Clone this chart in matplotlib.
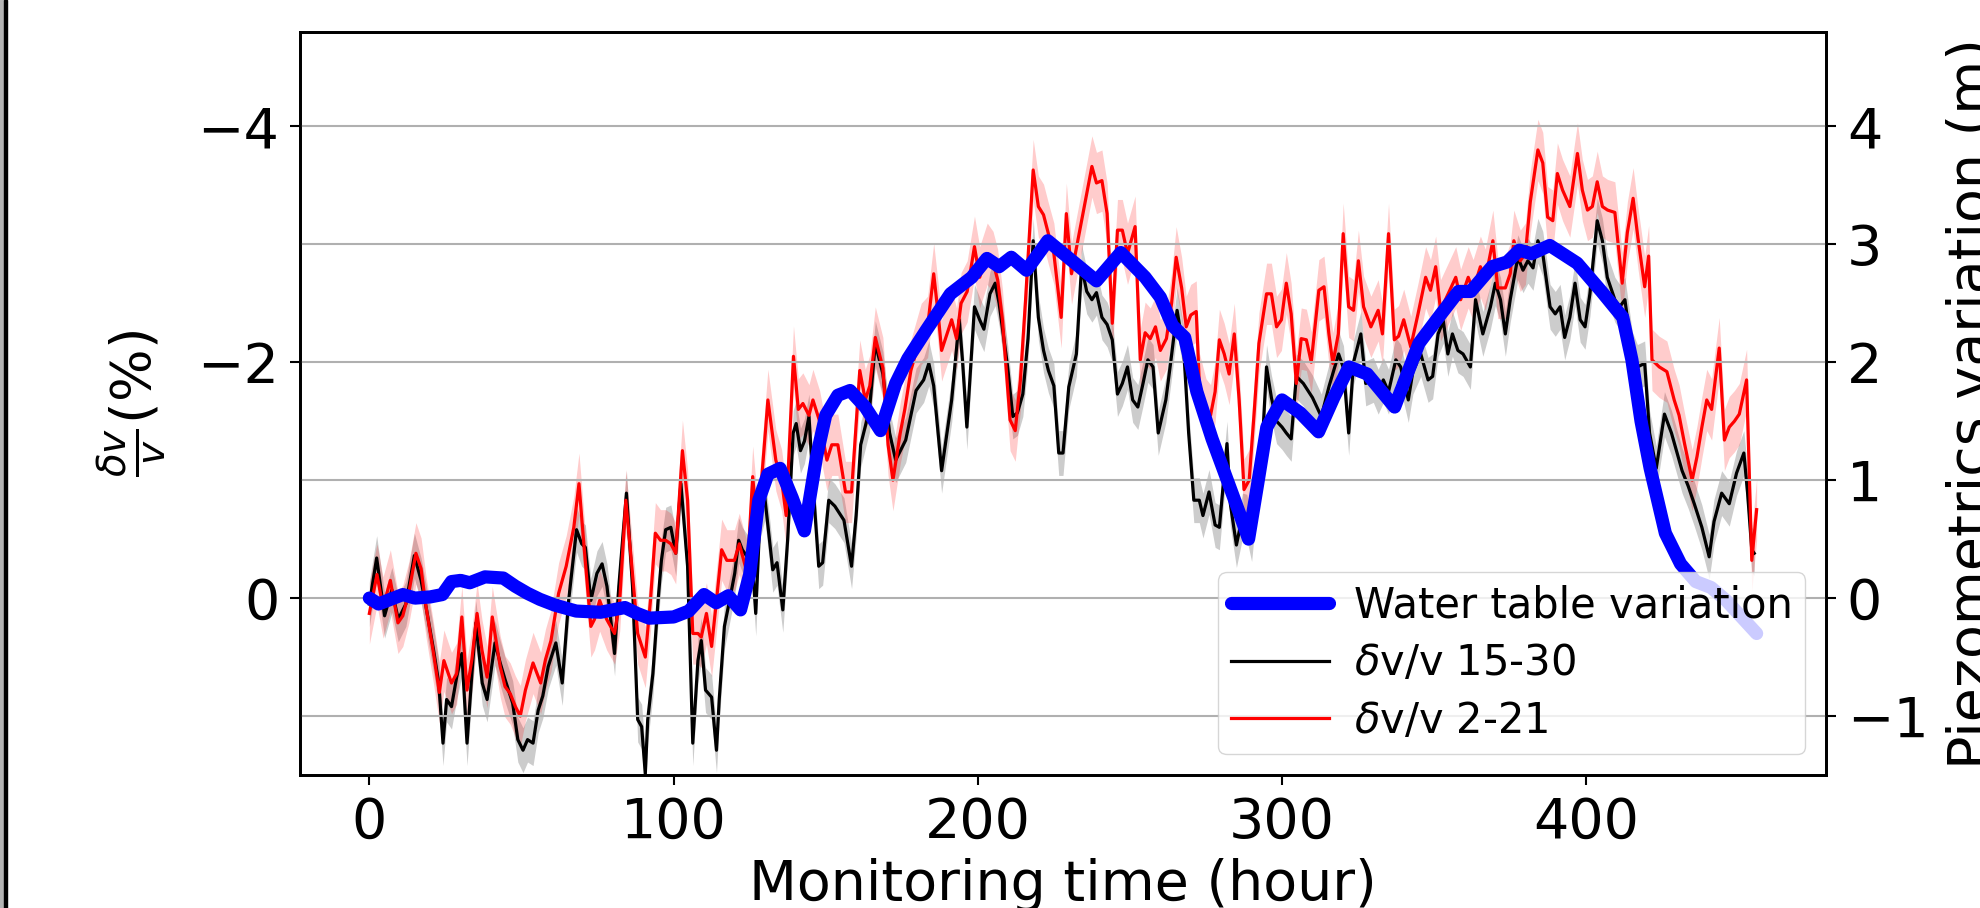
import matplotlib
matplotlib.use("Agg")
import matplotlib.pyplot as plt
import numpy as np
from matplotlib.patches import Rectangle

# water table (right axis, m)
t_wt = [0, 3, 7, 11, 15, 20, 24, 27, 30, 33,
        38, 44, 48, 52, 56, 61, 68, 76, 80, 84,
        88, 92, 100, 105, 110, 114, 118, 122, 125, 128,
        131, 135, 139, 143, 147, 150, 154, 158, 163, 168,
        173, 177, 183, 191, 198, 203, 207, 211, 216, 223,
        231, 239, 247, 255, 260, 264, 268, 272, 277, 282,
        286, 289, 292, 295, 300, 306, 312, 317, 322, 328,
        337, 345, 352, 358, 362, 369, 374, 378, 382, 388,
        397, 405, 412, 415, 418, 421, 426, 431, 436, 441,
        446, 451, 456]
wt = [0.0, -0.05, -0.01, 0.03, 0.0, 0.01, 0.03, 0.14, 0.15, 0.13,
      0.18, 0.17, 0.1, 0.04, -0.01, -0.06, -0.11, -0.12, -0.1, -0.08,
      -0.13, -0.17, -0.16, -0.11, 0.03, -0.04, 0.02, -0.1, 0.2, 0.83,
      1.05, 1.1, 0.85, 0.57, 1.2, 1.55, 1.72, 1.76, 1.62, 1.42,
      1.82, 2.03, 2.27, 2.58, 2.72, 2.88, 2.81, 2.89, 2.78, 3.03,
      2.86, 2.69, 2.93, 2.72, 2.55, 2.31, 2.21, 1.75, 1.35, 1.0,
      0.72, 0.5, 0.97, 1.45, 1.68, 1.57, 1.41, 1.7, 1.96, 1.9,
      1.62, 2.16, 2.4, 2.6, 2.6, 2.81, 2.85, 2.95, 2.92, 2.99,
      2.84, 2.6, 2.38, 2.02, 1.5, 1.1, 0.55, 0.29, 0.14, 0.09,
      -0.02, -0.16, -0.3]

# dv/v 15-30 (left axis, %)
t_black = [0, 2.4, 5, 7.4, 9.5, 12, 14.8, 17, 18.6, 21.1,
           22.8, 24.2, 25.4, 27, 28.7, 30.4, 32.1, 33.7, 35, 37.1,
           38.7, 41.3, 43, 44.6, 47.1, 48.8, 50.5, 52, 53.8, 55.5,
           57, 58.8, 61.3, 63.4, 65.5, 68.1, 69.8, 71, 72.8, 74.8,
           76.5, 78.1, 80.6, 82, 84.5, 86.5, 88.2, 89.5, 90.7, 91.5,
           93.2, 94.9, 96, 97.4, 99.1, 100.7, 102.4, 104.6, 106.3, 108,
           109.1, 110.5, 112.5, 114.1, 115, 116.7, 118.4, 120.1, 121.4, 122.6,
           124.2, 125.5, 127, 128.4, 130, 132.6, 134, 135.9, 137.5, 139.3,
           140.3, 141.7, 143, 144.5, 146, 147.7, 149, 151, 153, 156,
           158.5, 160, 161.5, 164.4, 166.3, 168.8, 171, 173, 176.3, 179.7,
           182.2, 183.9, 185.5, 188.1, 191.4, 193.9, 195, 196.4, 198.9, 200.6,
           202, 204, 205.7, 207, 209.8, 211.5, 213, 214.8, 216.5, 218.2,
           219.9, 221.6, 223.2, 225, 226.6, 228, 229.9, 232.4, 234.1, 235.8,
           237.5, 239, 240.8, 242.5, 244.2, 245.9, 247.5, 249.2, 250.9, 252.6,
           254.3, 255.9, 257.6, 259.3, 261.8, 263.5, 265.5, 267.7, 269.3, 271,
           272.8, 274, 276, 278, 279.4, 281.9, 283, 285, 287, 288.4,
           290, 291.5, 293.5, 294.9, 296.5, 298.2, 300, 301.4, 303, 304.7,
           307, 310, 312.9, 315.5, 318.6, 320.2, 321.9, 323.5, 325.9, 327.5,
           330, 331.6, 333.3, 335, 337.4, 339, 341.5, 343, 345.6, 348,
           349.5, 351.3, 353, 354.5, 356, 357.8, 359.5, 361.9, 363.6, 366,
           368.5, 370.1, 371.8, 373.4, 375, 377.5, 379.2, 380.8, 382.5, 384.1,
           385.7, 388.1, 389.8, 391.4, 392.9, 394.6, 396.3, 398, 399.6, 401.2,
           403.6, 405.3, 406.9, 409.4, 411, 412.7, 415.1, 416.8, 419.2, 420.8,
           423, 425.7, 428, 431.5, 433.5, 435.5, 438, 440.4, 442, 444.5,
           447, 449.4, 451.8, 453, 454.4, 455.2]
dv_black = [0.05, -0.34, 0.15, -0.07, 0.18, 0.05, -0.36, -0.15, 0.07, 0.44,
            0.72, 1.23, 0.86, 0.92, 0.67, 0.47, 1.23, 0.64, 0.21, 0.72,
            0.86, 0.38, 0.55, 0.69, 0.89, 1.2, 1.29, 1.2, 1.23, 0.95,
            0.83, 0.58, 0.38, 0.72, 0.02, -0.58, -0.46, -0.43, 0.02, -0.21,
            -0.29, -0.1, 0.47, -0.1, -0.89, -0.1, 1.03, 1.09, 1.49, 1.03,
            0.64, 0.02, -0.32, -0.58, -0.6, -0.38, -0.97, -0.27, 1.23, 0.53,
            0.36, 0.78, 0.84, 1.29, 0.86, 0.24, 0.02, -0.21, -0.49, -0.41,
            -0.35, -0.45, 0.13, -0.69, -0.85, -0.24, -0.3, 0.1, -0.5, -1.4,
            -1.48, -1.25, -1.33, -1.54, -0.9, -0.27, -0.3, -0.83, -0.78, -0.66,
            -0.27, -0.7, -1.3, -1.6, -2.16, -1.9, -1.4, -1.17, -1.34, -1.76,
            -1.85, -1.99, -1.8, -1.08, -1.68, -2.36, -2.0, -1.45, -2.47, -2.36,
            -2.28, -2.58, -2.67, -2.5, -1.96, -1.54, -1.57, -1.73, -2.2, -3.03,
            -2.38, -2.1, -1.93, -1.8, -1.23, -1.23, -1.79, -2.07, -2.81, -2.6,
            -2.53, -2.59, -2.38, -2.32, -2.19, -1.73, -1.82, -1.96, -1.68, -1.62,
            -1.82, -2.02, -1.96, -1.4, -1.68, -2.02, -2.44, -2.1, -1.4, -0.83,
            -0.83, -0.7, -0.9, -0.62, -0.6, -1.31, -0.8, -0.45, -0.7, -0.69,
            -0.5, -0.9, -1.3, -1.96, -1.7, -1.5, -1.45, -1.4, -1.35, -1.88,
            -1.82, -1.7, -1.54, -1.8, -2.07, -1.95, -1.4, -2.0, -2.24, -1.82,
            -1.85, -1.75, -1.85, -1.75, -2.02, -1.96, -1.68, -1.92, -2.07, -1.85,
            -1.88, -2.24, -2.35, -2.07, -2.24, -2.1, -2.07, -1.96, -2.53, -2.24,
            -2.47, -2.67, -2.53, -2.24, -2.53, -2.89, -2.78, -2.86, -2.8, -3.03,
            -2.92, -2.47, -2.41, -2.47, -2.21, -2.38, -2.67, -2.36, -2.3, -2.58,
            -3.2, -3.03, -2.72, -2.53, -2.47, -2.53, -2.07, -1.96, -1.99, -1.4,
            -1.1, -1.56, -1.4, -1.08, -0.95, -0.8, -0.6, -0.35, -0.65, -0.89,
            -0.8, -1.06, -1.23, -0.9, -0.41, -0.38]

# dv/v 2-21 (left axis, %)
t_red = [0, 2.5, 4.5, 6.9, 9.4, 11, 13, 15.3, 17, 18.6,
         21.1, 23, 24.5, 27, 28.7, 30.4, 32.1, 33.7, 35.4, 37,
         38.7, 40.4, 43, 44.6, 46.3, 48, 49.6, 51.3, 53.8, 56.3,
         57.9, 59.7, 62.2, 64.7, 67.2, 68.9, 70.5, 72.8, 74, 75.7,
         78, 80.6, 82.3, 84.3, 86.1, 88.2, 90.7, 92.4, 94, 95.7,
         97.4, 99.1, 100.7, 102.9, 104.6, 106.3, 108, 109.1, 110.8, 112.5,
         114.1, 115.8, 117.5, 120, 121.6, 124.2, 126, 127.5, 128.4, 131,
         133.6, 135.5, 137, 139.4, 141, 142.5, 144.5, 145.8, 148, 150.4,
         152, 154, 156.5, 158.5, 161.2, 163, 164.5, 166.3, 168.8, 170.5,
         172.1, 174.5, 176, 178, 181.4, 183.5, 185.5, 187, 188.1, 190,
         191.4, 193, 194.5, 196.5, 198.9, 200.6, 203.1, 205, 206.5, 208.1,
         210.6, 212.3, 214, 215.7, 218.2, 219.9, 221.6, 223.2, 225, 227.4,
         229.1, 230.8, 233.3, 235, 237.5, 239, 240.8, 242.5, 244.2, 245.9,
         247.5, 249.2, 251.7, 253.4, 255, 256.7, 258.4, 260, 262, 263.7,
         265.2, 267, 268.5, 270, 271.8, 272.8, 275, 276.5, 278, 279.4,
         281, 282.6, 284.3, 285.9, 287.5, 289.2, 290.8, 292.4, 294.9, 296.5,
         298.2, 299.8, 301.4, 303, 304.7, 306.3, 308, 309.6, 312.1, 313.8,
         315.4, 316.7, 318.5, 320.1, 321.9, 323.5, 325.1, 326.8, 329.2, 331.6,
         333, 335, 336.9, 338.3, 340, 342.3, 344.7, 347.2, 348.8, 350.5,
         352.1, 354.6, 357.1, 358.7, 361.2, 362.8, 365.2, 366.8, 369.3, 370.9,
         373.4, 375, 376.2, 378.3, 380, 381.6, 384.1, 385.7, 387.3, 389,
         390.5, 392.2, 394.6, 397.1, 398.7, 400.4, 402, 403.6, 405.3, 407,
         409.4, 411.8, 413.5, 415.4, 417, 419.2, 420.5, 421.6, 424, 426.5,
         428.9, 430.5, 432.3, 434.8, 436.4, 438, 439.6, 441.2, 443.7, 445.4,
         447, 448.7, 450.3, 452.7, 454.4, 456]
dv_red = [0.13, -0.2, 0.08, -0.15, 0.21, 0.15, -0.05, -0.38, -0.25, 0.07,
          0.47, 0.8, 0.53, 0.72, 0.64, 0.16, 0.78, 0.52, 0.13, 0.44,
          0.67, 0.16, 0.58, 0.75, 0.81, 0.92, 1.0, 0.78, 0.55, 0.72,
          0.52, 0.36, -0.04, -0.27, -0.6, -0.97, -0.46, 0.24, 0.18, 0.02,
          0.18, 0.3, 0.02, -0.83, -0.32, 0.3, 0.5, 0.02, -0.55, -0.49,
          -0.49, -0.46, -0.38, -1.25, -0.83, 0.3, 0.3, 0.33, 0.13, 0.41,
          0.02, -0.41, -0.32, -0.32, -0.46, -0.21, -1.03, -0.6, -0.83, -1.68,
          -1.17, -1.0, -0.7, -2.05, -1.6, -1.65, -1.55, -1.68, -1.5, -1.17,
          -1.3, -1.3, -0.9, -0.9, -1.93, -1.68, -1.8, -2.21, -1.95, -1.3,
          -1.0, -1.4, -1.6, -1.93, -2.24, -2.3, -2.75, -2.4, -2.1, -2.25,
          -2.36, -2.2, -2.5, -2.6, -2.98, -2.72, -2.92, -2.85, -2.7, -2.36,
          -1.51, -1.42, -1.85, -2.53, -3.63, -3.32, -3.25, -3.09, -2.92, -2.38,
          -3.26, -2.75, -3.09, -3.32, -3.66, -3.52, -3.54, -3.26, -2.33, -3.12,
          -3.12, -2.92, -3.15, -2.02, -2.25, -2.2, -2.3, -2.1, -2.2, -2.5,
          -2.89, -2.63, -2.3, -2.4, -2.43, -1.82, -1.6, -1.55, -1.75, -2.19,
          -2.07, -1.9, -2.24, -1.68, -0.92, -1.0, -1.56, -2.16, -2.58, -2.58,
          -2.3, -2.36, -2.67, -2.41, -1.82, -2.2, -2.19, -2.0, -2.61, -2.64,
          -2.24, -1.99, -2.24, -3.09, -2.47, -2.44, -2.86, -2.47, -2.3, -2.44,
          -2.24, -3.09, -2.19, -2.22, -2.36, -2.13, -2.41, -2.72, -2.61, -2.81,
          -2.44, -2.58, -2.72, -2.53, -2.72, -2.61, -2.81, -2.7, -3.03, -2.63,
          -2.63, -2.75, -3.03, -2.86, -2.92, -3.36, -3.8, -3.69, -3.23, -3.2,
          -3.6, -3.46, -3.32, -3.77, -3.46, -3.29, -3.32, -3.53, -3.32, -3.29,
          -3.27, -2.67, -3.1, -3.39, -3.05, -2.64, -2.9, -2.02, -1.96, -1.92,
          -1.68, -1.55, -1.31, -1.0, -1.2, -1.45, -1.68, -1.6, -2.12, -1.34,
          -1.45, -1.5, -1.56, -1.85, -0.32, -0.75]

err_black = 0.19  # half width of grey band
err_red = 0.26    # half width of pink band

fig = plt.figure(figsize=(19.81, 9.08), dpi=100)
ax = fig.add_axes([300 / 1981, 1 - 775 / 908, 1526 / 1981, 743 / 908])
ax2 = ax.twinx()

vb = np.array(dv_black)
vr = np.array(dv_red)
ax.fill_between(t_black, vb - err_black, vb + err_black, color='0.5', alpha=0.4, lw=0)
ax.fill_between(t_red, vr - err_red, vr + err_red, color='red', alpha=0.2, lw=0)
l_black, = ax.plot(t_black, dv_black, color='black', lw=2.3, label=r'$\delta$v/v 15-30')
l_red, = ax.plot(t_red, dv_red, color='red', lw=2.3, label=r'$\delta$v/v 2-21')

l_wt, = ax2.plot(t_wt, wt, color='blue', lw=9.5, solid_joinstyle='round',
                 solid_capstyle='round', label='Water table variation')

ax.set_ylim(1.5, -4.8)
ax2.set_ylim(-1.5, 4.8)
ax.set_yticks([-4, -2, 0])
ax2.set_yticks([-1, 0, 1, 2, 3, 4])
ax2.grid(True, color='#b0b0b0', lw=1.5)

for a in (ax, ax2):
    a.tick_params(labelsize=40, length=7, width=1.5, pad=8)
    for s in a.spines.values():
        s.set_linewidth(2)

ax.set_xlabel('Monitoring time (hour)', fontsize=40, labelpad=6)
ax.set_ylabel(r'$\frac{\delta v}{v}$(%)', fontsize=40, labelpad=22)
ax2.set_ylabel('Piezometrics variation (m)', fontsize=40, labelpad=12)

ax2.legend(handles=[l_wt, l_black, l_red], loc='lower right', fontsize=30,
           handlelength=2.35, handletextpad=0.6, borderpad=0.3,
           labelspacing=0.37, borderaxespad=0.5)

# frame edge at the left of the picture
fig.patches.append(Rectangle((0, 0), 4 / 1981, 1, transform=fig.transFigure,
                             color='#b4b4b4', zorder=5))
fig.patches.append(Rectangle((4 / 1981, 0), 3 / 1981, 1, transform=fig.transFigure,
                             color='black', zorder=5))

fig.savefig('out.png', dpi=100)
